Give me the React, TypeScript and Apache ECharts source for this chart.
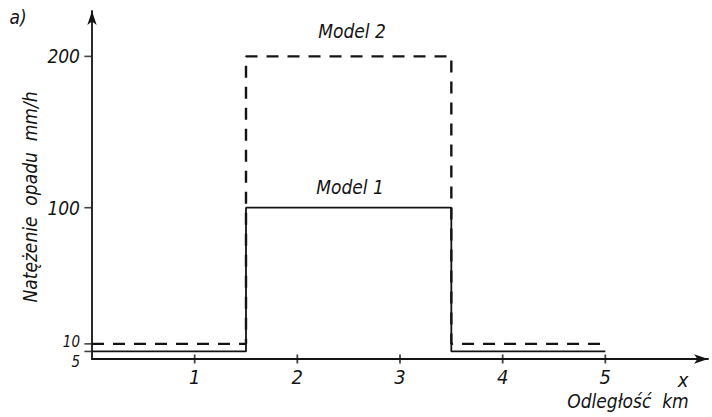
import React, { useEffect, useRef } from "react";
import * as echarts from "echarts";

const xSteps = [0, 1.5, 1.5, 3.5, 3.5, 5];
const model1 = [5, 5, 100, 100, 5, 5];
const model2 = [10, 10, 200, 200, 10, 10];
const xTickValues = [1, 2, 3, 4, 5];
const yTickValues = [5, 10, 100, 200];
const seriesNames = ["Model 1", "Model 2"];

const FONT = "'DejaVu Sans Condensed', 'Liberation Sans Narrow', 'DejaVu Sans', sans-serif";
const INK = "#141414";

export default function App() {
  const ref = useRef<HTMLDivElement>(null);
  useEffect(() => {
    if (!ref.current) return;
    const chart = echarts.init(ref.current, undefined, { renderer: "svg" });
    chart.setOption({
      animation: false,
      backgroundColor: "#ffffff",
      grid: { left: 92, right: 4, top: 11, bottom: 58, containLabel: false },
      xAxis: {
        type: "value",
        min: 0,
        max: 6,
        interval: 1,
        splitLine: { show: false },
        axisTick: { show: false },
        axisLine: {
          onZero: false,
          symbol: ["none", "arrow"],
          symbolSize: [7, 14],
          lineStyle: { color: INK, width: 1.8 },
        },
        axisLabel: {
          margin: 8,
          color: INK,
          fontFamily: FONT,
          fontStyle: "italic",
          fontSize: 20,
          formatter: (v: number) => (xTickValues.includes(v) ? String(v) : ""),
        },
      },
      yAxis: {
        type: "value",
        min: 0,
        max: 230,
        interval: 5,
        splitLine: { show: false },
        axisTick: { show: false },
        axisLine: {
          symbol: ["none", "arrow"],
          symbolSize: [7, 14],
          lineStyle: { color: INK, width: 1.8 },
        },
        axisLabel: {
          margin: 12,
          color: INK,
          fontFamily: FONT,
          fontStyle: "italic",
          fontSize: 19,
          formatter: (v: number) =>
            v === 5 ? "{low|5}" : v === 10 ? "{up|10}" : yTickValues.includes(v) ? String(v) : "",
          rich: {
            low: {
              fontFamily: FONT,
              fontStyle: "italic",
              fontSize: 15,
              color: INK,
              padding: [22, 0, 0, 0],
            },
            up: {
              fontFamily: FONT,
              fontStyle: "italic",
              fontSize: 15,
              color: INK,
              padding: [0, 0, 4, 0],
            },
          },
        },
      },
      series: [
        {
          name: seriesNames[0],
          type: "line",
          data: xSteps.map((x, i) => [x, model1[i]]),
          symbol: "none",
          lineStyle: { color: INK, width: 1.8, type: "solid" },
          clip: false,
          z: 3,
        },
        {
          name: seriesNames[1],
          type: "line",
          data: xSteps.map((x, i) => [x, model2[i]]),
          symbol: "none",
          lineStyle: { color: INK, width: 2.4, type: [12, 9] },
          clip: false,
          z: 4,
        },
        {
          type: "scatter",
          data: xTickValues.map((x) => [x, 0]),
          symbol: "rect",
          symbolSize: [1.8, 9],
          itemStyle: { color: INK },
          clip: false,
          silent: true,
        },
        {
          type: "scatter",
          data: yTickValues.map((y) => [-0.04, y]),
          symbol: "rect",
          symbolSize: [7, 1.6],
          itemStyle: { color: INK },
          clip: false,
          silent: true,
        },
      ],
      graphic: [
        {
          type: "text",
          x: 18,
          y: 17,
          style: { text: "a)", font: `italic 19px ${FONT}`, fill: INK, align: "center", verticalAlign: "middle" },
        },
        {
          type: "text",
          x: 352,
          y: 31,
          style: { text: "Model 2", font: `italic 19px ${FONT}`, fill: INK, align: "center", verticalAlign: "middle" },
        },
        {
          type: "text",
          x: 350,
          y: 187,
          style: { text: "Model 1", font: `italic 19px ${FONT}`, fill: INK, align: "center", verticalAlign: "middle" },
        },
        {
          type: "text",
          x: 30,
          y: 197,
          rotation: Math.PI / 2,
          style: { text: "Natężenie  opadu  mm/h", font: `italic 19px ${FONT}`, fill: INK, align: "center", verticalAlign: "middle" },
        },
        {
          type: "text",
          x: 683,
          y: 380,
          style: { text: "x", font: `italic 20px ${FONT}`, fill: INK, align: "center", verticalAlign: "middle" },
        },
        {
          type: "text",
          x: 628,
          y: 401,
          style: { text: "Odległość  km", font: `italic 19px ${FONT}`, fill: INK, align: "center", verticalAlign: "middle" },
        },
      ],
    });
    return () => chart.dispose();
  }, []);
  return <div ref={ref} style={{ width: 712, height: 417, position: "absolute", left: 0, top: 0 }} />;
}
